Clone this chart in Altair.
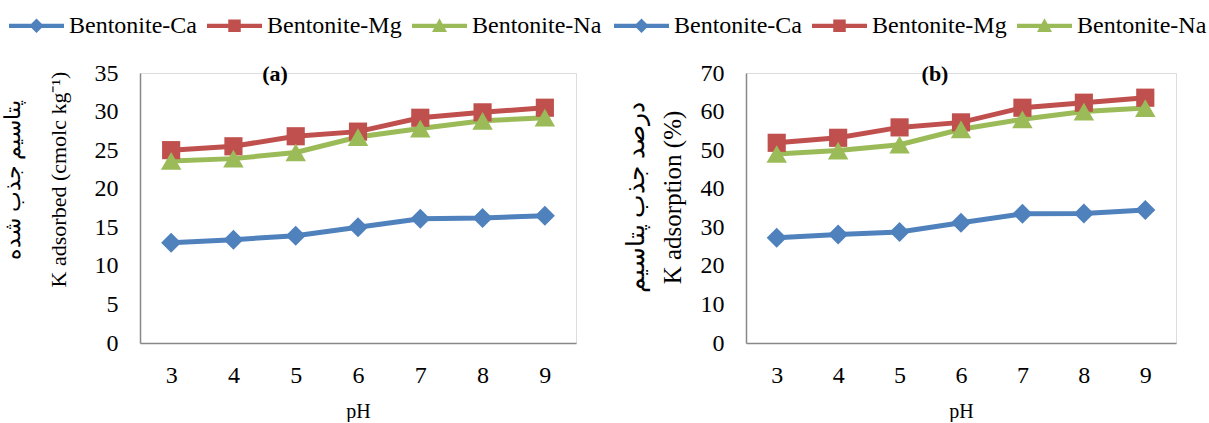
import altair as alt
import pandas as pd

ph = [3, 4, 5, 6, 7, 8, 9]
series = ["Bentonite-Ca", "Bentonite-Mg", "Bentonite-Na"]
colors = ["#4F81BD", "#C0504D", "#9BBB59"]

# Panel (a): K adsorbed (cmolc kg-1)
a_ca = [13.0, 13.4, 13.9, 15.0, 16.1, 16.2, 16.5]
a_mg = [25.0, 25.5, 26.8, 27.4, 29.2, 29.9, 30.5]
a_na = [23.6, 23.9, 24.7, 26.7, 27.8, 28.8, 29.2]

# Panel (b): K adsorption (%)
b_ca = [27.3, 28.1, 28.8, 31.2, 33.5, 33.6, 34.5]
b_mg = [51.9, 53.2, 55.9, 57.2, 61.0, 62.3, 63.6]
b_na = [49.0, 49.9, 51.4, 55.4, 58.0, 60.0, 60.9]

a_title = ["پتاسیم جذب شده", "K adsorbed (cmolc kg⁻¹)"]
b_title = ["درصد جذب پتاسیم", "K adsorption (%)"]

marker_shapes = ["diamond", "square", "triangle-up"]
marker_sizes = [400, 330, 420]
# legend symbols: a line with the marker on it (unit = 12.5 px, symbol column 25 px)
legend_paths = [
    "M-1,-0.17L3.4,-0.17L3.4,0.17L-1,0.17Z M1.2,-0.58L1.78,0L1.2,0.58L0.62,0Z",
    "M-1,-0.17L3.4,-0.17L3.4,0.17L-1,0.17Z M0.7,-0.5L1.7,-0.5L1.7,0.5L0.7,0.5Z",
    "M-1,-0.17L3.4,-0.17L3.4,0.17L-1,0.17Z M1.2,-0.6L1.8,0.5L0.6,0.5Z",
]

FONT = "Liberation Serif"
AXIS_COLOR = "#888888"


def make_df(ca, mg, na):
    rows = []
    for s, vals in zip(series, [ca, mg, na]):
        for p, v in zip(ph, vals):
            rows.append({"pH": p, "series": s, "value": v})
    return pd.DataFrame(rows)


def panel(df, ymax, ystep, ytitle, ptitle, width, title_dx, title_x, title_y,
          line_h, ytitle_size, legend_x):
    base = alt.Chart(df)
    x = alt.X(
        "pH:O",
        scale=alt.Scale(type="point", padding=0.5),
        axis=alt.Axis(
            title="pH", labelAngle=0, ticks=False, grid=False,
            labelPadding=20, titlePadding=14,
            labelFont=FONT, labelFontSize=24, labelColor="black",
            titleFont=FONT, titleFontSize=20, titleFontWeight="normal", titleColor="black",
            domainColor=AXIS_COLOR, domainWidth=1.5,
        ),
    )
    y = alt.Y(
        "value:Q",
        scale=alt.Scale(domain=[0, ymax], nice=False, zero=True),
        axis=alt.Axis(
            title=ytitle, values=list(range(0, ymax + 1, ystep)), ticks=False, grid=False,
            labelPadding=22, labelFont=FONT, labelFontSize=24, labelColor="black",
            titleFont=FONT, titleFontSize=ytitle_size, titleFontWeight="normal", titleColor="black",
            titleLineHeight=line_h, titleX=title_x, titleY=title_y, titleBaseline="bottom",
            domainColor=AXIS_COLOR, domainWidth=1.5,
        ),
    )
    cscale = alt.Scale(domain=series, range=colors)
    leg = alt.Legend(
        title=None, orient="none", legendX=legend_x, legendY=-60, direction="horizontal",
        labelFont=FONT, labelFontSize=24, labelColor="black", labelLimit=400,
        symbolSize=625, symbolStrokeWidth=0, symbolOpacity=1,
        labelOffset=35, columnPadding=10, padding=0,
    )
    color = alt.Color("series:N", scale=cscale, legend=leg)
    lines = base.mark_line(strokeWidth=5).encode(x=x, y=y, color=color)
    layers = [lines]
    for s, shp, sz in zip(series, marker_shapes, marker_sizes):
        layers.append(
            base.transform_filter(alt.datum.series == s)
            .mark_point(shape=shp, size=sz, filled=True, opacity=1)
            .encode(x=x, y=y, color=color)
        )
    legend_layer = base.mark_point(filled=True, opacity=0).encode(
        x=x, y=y,
        color=color,
        shape=alt.Shape("series:N", scale=alt.Scale(domain=series, range=legend_paths), legend=leg),
    )
    layers.append(legend_layer)
    return alt.layer(*layers).properties(
        width=width, height=270,
        title=alt.TitleParams(
            text=ptitle, font=FONT, fontSize=22, fontWeight="bold", color="black",
            anchor="middle", frame="group", dx=title_dx, offset=0, dy=73,
        ),
    )


pa = panel(make_df(a_ca, a_mg, a_na), 35, 5, a_title, "(a)", 436, -83, -116, 106, 46, 22, -131)
pb = panel(make_df(b_ca, b_mg, b_na), 70, 10, b_title, "(b)", 430, -26, -98, 124, 37, 25, -132)

chart = (
    alt.hconcat(pa, pb, spacing=170, bounds="flush")
    .resolve_scale(color="independent", shape="independent")
    .resolve_legend(color="independent", shape="independent")
    .properties(
        padding={"left": 0, "top": 12, "right": 0, "bottom": 0},
        autosize=alt.AutoSizeParams(type="pad"),
    )
    .configure_view(stroke=None)
    .configure(background="white")
)

chart.save("out.html", embed_options={"renderer": "svg", "actions": False})
